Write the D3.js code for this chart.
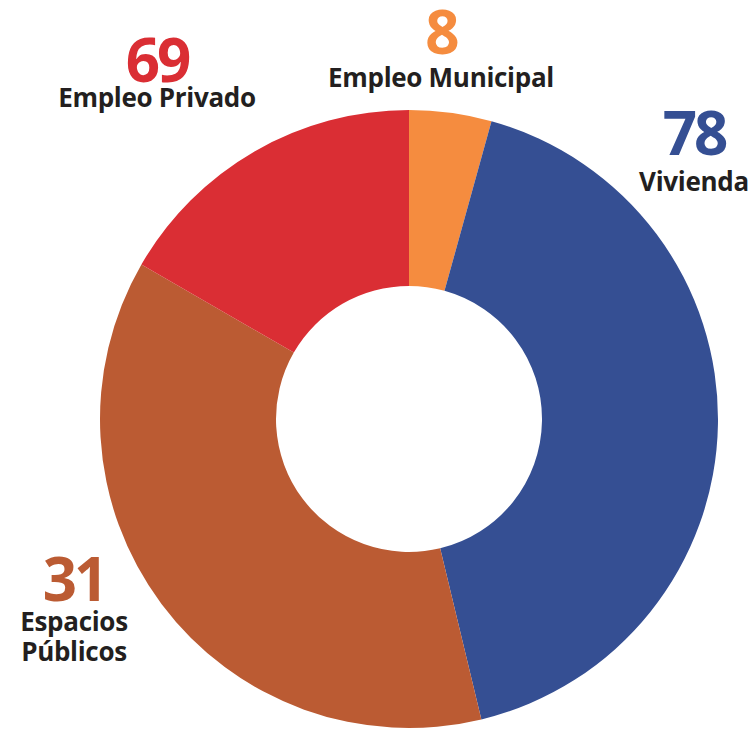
<!DOCTYPE html>
<html>
<head>
<meta charset="utf-8">
<script src="https://cdn.jsdelivr.net/npm/d3@7"></script>
<style>
  body { margin: 0; background: #fff; }
  svg { display: block; }
</style>
</head>
<body>
<div id="chart"></div>
<script>
// Data:
const categories = ["Empleo Municipal", "Vivienda", "Empleo Privado", "Espacios Públicos"];
const values = [8, 78, 69, 31];
const sliceColors = ["#F58C3F", "#354F93", "#BB5B33", "#DA2E34"];
const labelColors = ["#F58C3F", "#354F93", "#DA2E34", "#BB5B33"];

// Canvas:
const svgWidth = 755;
const svgHeight = 730;
const cx = 409, cy = 419;
const outerR = 309, innerR = 133;

// Label layout (number baseline, name baseline(s), anchor x):
const labelLayout = [
    { x: 441, numY: 54, lines: ["Empleo Municipal"], lineY: 87 },
    { x: 694, numY: 155, lines: ["Vivienda"], lineY: 191 },
    { x: 157, numY: 82, lines: ["Empleo Privado"], lineY: 107 },
    { x: 74, numY: 601, lines: ["Espacios", "Públicos"], lineY: 631 }
];

let svg = d3.select('#chart')
            .append('svg')
            .attr('width', svgWidth)
            .attr('height', svgHeight);

let chartGroup = svg.append('g')
                    .attr('transform', `translate(${cx}, ${cy})`);

let pie = d3.pie().sort(null).value(d => d);
let arc = d3.arc().innerRadius(innerR).outerRadius(outerR);

chartGroup.selectAll('path')
          .data(pie(values))
          .enter()
          .append('path')
          .attr('d', arc)
          .attr('fill', (d, i) => sliceColors[i]);

// Labels:
let labels = svg.selectAll('g.label')
                .data(categories)
                .enter()
                .append('g')
                .classed('label', true);

labels.append('text')
      .attr('x', (d, i) => labelLayout[i].x)
      .attr('y', (d, i) => labelLayout[i].numY)
      .attr('text-anchor', 'middle')
      .attr('font-family', 'Open Sans, sans-serif')
      .attr('font-weight', 700)
      .attr('font-size', 60)
      .attr('letter-spacing', -3)
      .attr('fill', (d, i) => labelColors[i])
      .text((d, i) => values[i]);

labels.each(function(d, i) {
    let lay = labelLayout[i];
    lay.lines.forEach((line, j) => {
        d3.select(this).append('text')
          .attr('x', lay.x)
          .attr('y', lay.lineY + j * 30)
          .attr('text-anchor', 'middle')
          .attr('font-family', 'Open Sans, sans-serif')
          .attr('font-weight', 700)
          .attr('font-size', 26)
          .attr('letter-spacing', -0.3)
          .attr('fill', '#231F20')
          .text(line);
    });
});
</script>
</body>
</html>
